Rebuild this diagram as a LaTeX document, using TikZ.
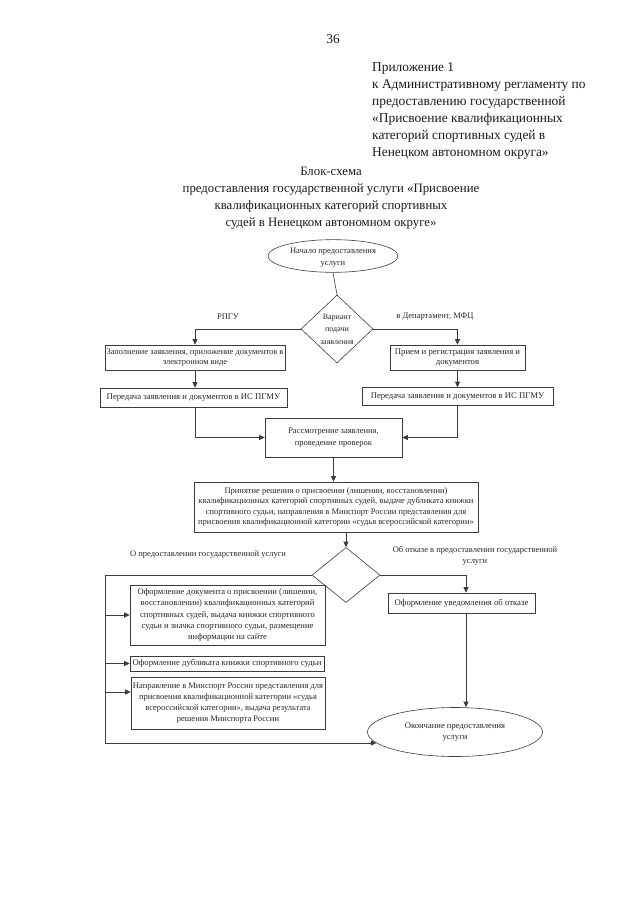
\documentclass[tikz,border=0pt]{standalone}
\usepackage{fontspec}
\setmainfont{Liberation Serif}
\usetikzlibrary{positioning,shapes.geometric,arrows.meta}
\definecolor{lineg}{RGB}{60,60,60}

\begin{document}
\begin{tikzpicture}[x=1pt,y=-1pt,
  box/.style={draw=lineg, line width=0.6pt, align=center, inner sep=0pt,
    text=black!85, font=\fontsize{8.7}{10.5}\selectfont},
  oval/.style={box, ellipse},
  choice/.style={box, diamond},
  lbl/.style={align=center, inner sep=0pt, text=black!85,
    font=\fontsize{8.5}{11.5}\selectfont},
  head/.style={inner sep=0pt, text=black!90, font=\fontsize{13.4}{17}\selectfont},
  ln/.style={draw=lineg, line width=0.6pt},
  arr/.style={ln, -{Triangle[length=5.5pt,width=5pt]}}
  ]
  \useasboundingbox (0,0) rectangle (640,905);

  % шапка
  \node[head] (num) at (333,39) {36};
  \node[head, anchor=north west, align=left] (app) at (372,62)
    {Приложение 1\\к Административному регламенту по\\предоставлению государственной\\«Присвоение квалификационных\\категорий спортивных судей в\\Ненецком автономном округа»};
  \node[head, anchor=north, align=center, font=\fontsize{12.8}{17}\selectfont] (title) at (331,167)
    {Блок-схема\\предоставления государственной услуги «Присвоение\\квалификационных категорий спортивных\\судей в Ненецком автономном округе»};

  % начало и выбор способа подачи
  \node[oval, minimum width=130pt, minimum height=31pt, font=\fontsize{8.5}{12.5}\selectfont] (start) at (333,256)
    {\strut Начало предоставления\\услуги};
  \node[choice, minimum width=72pt, minimum height=68pt, font=\fontsize{8}{12.5}\selectfont] (d1) at (337,329)
    {Вариант\\подачи\\заявления};
  \node[lbl] (lrpgu) at (228,317) {РПГУ};
  \node[lbl] (ldep) at (435,317) {в Департамент, МФЦ};

  % левая и правая ветви
  \node[box, minimum width=180pt, minimum height=25pt, font=\fontsize{8.4}{10.5}\selectfont] (lb1) at (195,357.5)
    {Заполнение заявления, приложение документов в\\электронном виде};
  \node[box, minimum width=187pt, minimum height=19pt] (lb2) at (193.5,397.5)
    {Передача заявления и документов в ИС ПГМУ};
  \node[box, minimum width=135pt, minimum height=25pt] (rb1) at (457.5,357.5)
    {Прием и регистрация заявления и\\документов};
  \node[box, minimum width=191pt, minimum height=18pt] (rb2) at (457.5,396.5)
    {Передача заявления и документов в ИС ПГМУ};

  \node[box, minimum width=137pt, minimum height=39pt, font=\fontsize{8.5}{12}\selectfont] (rev) at (333.5,437.5)
    {Рассмотрение заявления,\\проведение проверок};
  \node[box, minimum width=284pt, minimum height=50pt, font=\fontsize{8.5}{10.3}\selectfont] (dec) at (336,507)
    {Принятие решения о присвоении (лишении, восстановлении)\\квалификационных категорий спортивных судей, выдаче дубликата книжки\\спортивного судьи, направления в Минспорт России представления для\\присвоения квалификационной категории «судья всероссийской категории»};

  % решение
  \node[choice, minimum width=68pt, minimum height=55pt] (d2) at (346,575) {};
  \node[lbl] (lyes) at (208,555) {О предоставлении государственной услуги};
  \node[lbl] (lno) at (475,556) {Об отказе в предоставлении государственной\\услуги};

  \node[box, minimum width=195pt, minimum height=60pt, font=\fontsize{8.6}{11.2}\selectfont] (ba) at (227.5,615)
    {Оформление документа о присвоении (лишении,\\восстановлении) квалификационных категорий\\спортивных судей, выдача книжки спортивного\\судьи и значка спортивного судьи, размещение\\информации на сайте};
  \node[box, minimum width=194pt, minimum height=15pt] (bb) at (227,663.5)
    {Оформление дубликата книжки спортивного судьи};
  \node[box, minimum width=194pt, minimum height=52pt, font=\fontsize{8.5}{11}\selectfont] (bc) at (228,703)
    {Направление в Минспорт России представления для\\присвоения квалификационной категории «судья\\всероссийской категории», выдача результата\\решения Минспорта России};
  \node[box, minimum width=147pt, minimum height=20pt] (br) at (461.5,603)
    {Оформление уведомления об отказе};

  \node[oval, minimum width=175pt, minimum height=49pt, font=\fontsize{8.6}{11.5}\selectfont] (fin) at (455,732)
    {Окончание предоставления\\услуги};

  % связи
  \draw[ln] (start.south) -- (d1.north);
  \draw[arr] (d1.west) -| (lb1.north);
  \draw[arr] (d1.east) -| (rb1.north);
  \draw[arr] (lb1.south) -- (lb1.south |- lb2.north);
  \draw[arr] (rb1.south) -- (rb2.north);
  \draw[arr] (lb1.south |- lb2.south) |- (rev.west);
  \draw[arr] (rb2.south) |- (rev.east);
  \draw[arr] (rev.south) -- (rev.south |- dec.north);
  \draw[arr] (d2.north |- dec.south) -- (d2.north);

  \coordinate (lft) at (105,575);
  \coordinate (cin) at ([yshift=11pt]bc.west);
  \draw[ln] (d2.west) -- (lft);
  \draw[arr] (lft) |- (fin.188);
  \draw[arr] (lft |- ba.west) -- (ba.west);
  \draw[arr] (lft |- bb.west) -- (bb.west);
  \draw[arr] (lft |- cin) -- (cin);

  \coordinate (rin) at ([xshift=4.5pt]br.north);
  \coordinate (rout) at ([xshift=4.5pt]br.south);
  \draw[arr] (d2.east) -| (rin);
  \draw[arr] (rout) -- (rout |- fin.north);
\end{tikzpicture}
\end{document}
